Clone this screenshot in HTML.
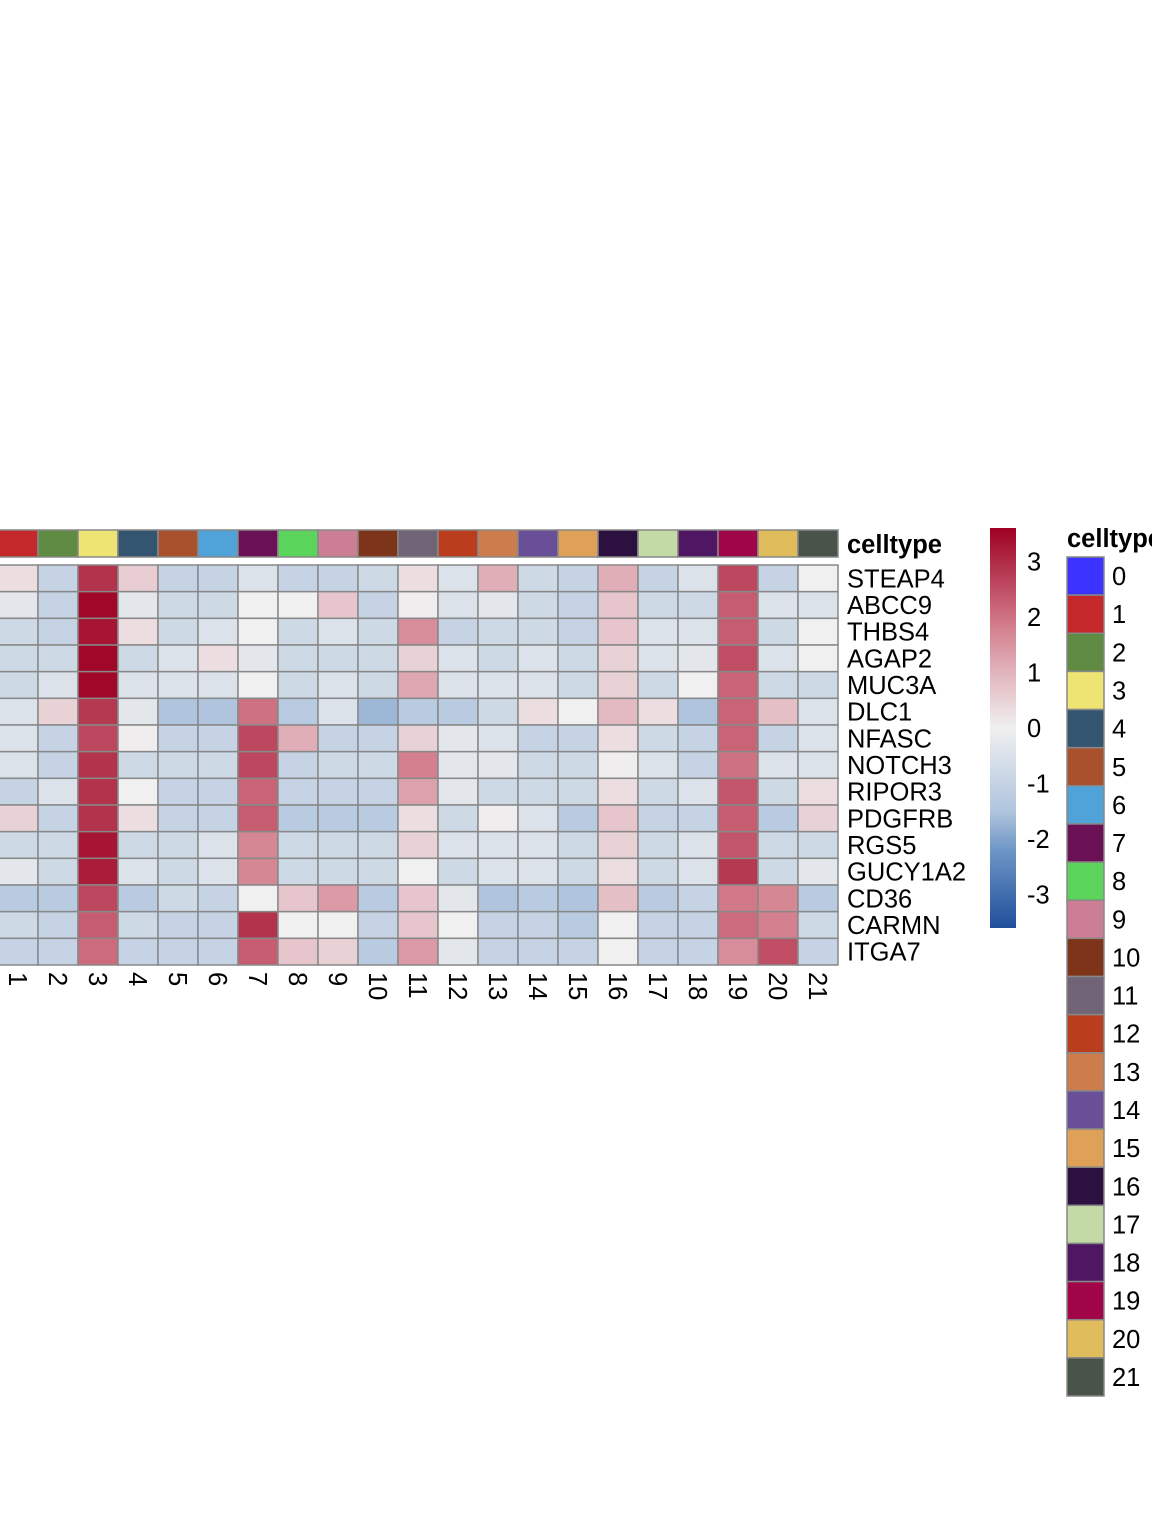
<!DOCTYPE html>
<html><head><meta charset="utf-8"><style>
html,body{margin:0;padding:0;background:#fff;}
svg{display:block;font-family:"Liberation Sans",Arial,sans-serif;}
</style></head><body>
<svg id="chart" width="1152" height="1536" viewBox="0 0 1152 1536" xmlns="http://www.w3.org/2000/svg"></svg>
<script>
const genes = ["STEAP4","ABCC9","THBS4","AGAP2","MUC3A","DLC1","NFASC","NOTCH3","RIPOR3","PDGFRB","RGS5","GUCY1A2","CD36","CARMN","ITGA7"];
const clusters = ["0","1","2","3","4","5","6","7","8","9","10","11","12","13","14","15","16","17","18","19","20","21"];
const clusterColors = ["#3C33FF","#C4282A","#5F8B43","#EEE474","#33556F","#A9502C","#4FA3D8","#6A1155","#5AD45A","#CB7E94","#7D3419","#706476","#BA3D1E","#CD7D4C","#684F98","#DEA157","#2C1040","#C3DAA7","#4F1664","#A00548","#E1BC5C","#48534A"];
const colorTicks = [3,2,1,0,-1,-2,-3];
const values = [
[-1,0.3,-1,2.9,0.6,-1,-1,-0.5,-1,-1,-0.8,0.3,-0.5,1.1,-0.8,-1,1.1,-1,-0.5,2.6,-1,0],
[-1,-0.3,-1,3.5,-0.3,-0.8,-0.8,0,0,0.7,-1,0.05,-0.5,-0.3,-0.8,-1,0.7,-0.8,-0.8,2.3,-0.5,-0.5],
[-1,-0.8,-1,3.3,0.3,-0.8,-0.5,0,-0.8,-0.5,-0.8,1.6,-1,-0.8,-0.8,-1,0.7,-0.5,-0.5,2.3,-0.8,0],
[-1,-0.8,-0.8,3.5,-0.8,-0.5,0.3,-0.3,-0.8,-0.8,-0.8,0.5,-0.5,-0.8,-0.5,-0.8,0.5,-0.5,-0.3,2.5,-0.5,0],
[-1,-0.8,-0.5,3.5,-0.5,-0.5,-0.5,0,-0.8,-0.5,-0.8,1.2,-0.5,-0.5,-0.5,-0.8,0.5,-0.8,0,2.2,-0.8,-0.8],
[-1,-0.5,0.5,2.8,-0.3,-1.5,-1.5,2.0,-1.3,-0.5,-1.7,-1.3,-1.3,-0.8,0.3,0,0.9,0.3,-1.5,2.2,0.8,-0.5],
[-1,-0.5,-1,2.6,0.05,-1,-1,2.6,1.1,-1,-1,0.5,-0.3,-0.5,-1,-1,0.3,-0.8,-1,2.2,-1,-0.5],
[-1,-0.5,-1,2.9,-0.8,-0.8,-0.8,2.6,-1,-0.8,-0.8,1.8,-0.3,-0.3,-0.8,-0.8,0.05,-0.5,-1,2.0,-0.5,-0.5],
[-1,-1,-0.5,2.9,0,-1,-1,2.2,-1,-1,-1,1.3,-0.3,-0.8,-0.8,-0.8,0.3,-0.8,-0.5,2.4,-0.8,0.3],
[-1,0.5,-1,2.9,0.3,-1,-1,2.3,-1.3,-1.3,-1.3,0.3,-0.8,0.05,-0.5,-1.3,0.7,-1,-1,2.3,-1.3,0.5],
[-1,-0.8,-0.8,3.3,-0.8,-0.8,-0.5,1.7,-0.8,-0.8,-0.8,0.5,-0.5,-0.5,-0.5,-0.8,0.5,-0.8,-0.5,2.4,-0.8,-0.8],
[-1,-0.3,-0.8,3.2,-0.5,-0.8,-0.5,1.7,-0.8,-0.8,-0.8,0,-0.8,-0.5,-0.5,-0.8,0.3,-0.8,-0.5,2.8,-0.8,-0.3],
[-1,-1.3,-1.3,2.6,-1.3,-0.8,-1,0,0.7,1.4,-1.3,0.7,-0.3,-1.5,-1.3,-1.5,0.8,-1.3,-1,1.9,1.7,-1.3],
[-1,-0.8,-1,2.3,-0.8,-1,-1,2.9,0,0,-1,0.7,0,-1,-1,-1.3,0,-1,-1,2.1,1.8,-0.8],
[-1,-1,-1,2.1,-1,-1,-1,2.3,0.7,0.5,-1.3,1.4,-0.3,-1,-1,-1,0,-1,-1,1.6,2.5,-1]
];
const NS="http://www.w3.org/2000/svg";
const svg=document.getElementById('chart');
const vmin=-3.6,vmax=3.6;
const stops=[[-3.6,[31,79,155]],[-2.2,[110,150,198]],[-1.5,[176,197,221]],[-1,[197,211,228]],[0,[240,240,240]],[1,[225,180,188]],[1.8,[212,128,142]],[3.6,[158,0,34]]];
function colorOf(v){v=Math.max(vmin,Math.min(vmax,v));for(let i=0;i<stops.length-1;i++){const a=stops[i],b=stops[i+1];if(v<=b[0]){const t=(v-a[0])/(b[0]-a[0]);const c=a[1].map((x,k)=>Math.round(x+(b[1][k]-x)*t));return `rgb(${c[0]},${c[1]},${c[2]})`;}}return 'rgb(158,0,34)';}
const x0=-42,cw=40,y0=565,rh=400/15;
const FS=25.5;
function xCol(i){return x0+i*cw;}
function yRow(j){return y0+j*rh;}
function el(tag,attrs,parent){const e=document.createElementNS(NS,tag);for(const k in attrs)e.setAttribute(k,attrs[k]);(parent||svg).appendChild(e);return e;}
clusters.forEach((c,i)=>{
  const r=el('rect',{x:xCol(i),y:530,width:cw,height:27,fill:clusterColors[i],stroke:'#888','stroke-width':1.5});
  
  
});
const at=el('text',{x:847,y:553,'font-size':FS,'font-weight':'bold',fill:'#000'});at.textContent='celltype';


values.forEach((row,j)=>{row.forEach((v,i)=>{
  const r=el('rect',{x:xCol(i),y:yRow(j),width:cw,height:rh,fill:colorOf(v),stroke:'#888','stroke-width':1.5});
  
  
});});
genes.forEach((g,j)=>{
  const t=el('text',{x:847,y:yRow(j)+rh/2+9,'font-size':FS,fill:'#000'});t.textContent=g;
  
  
});
clusters.forEach((c,i)=>{
  const cx=xCol(i)+cw/2;
  const t=el('text',{x:0,y:0,'font-size':FS,fill:'#000',transform:`translate(${cx-9},972) rotate(90)`});t.textContent=c;
  
  
});
const defs=el('defs',{});
const lg=el('linearGradient',{id:'cg',x1:0,y1:1,x2:0,y2:0},defs);
stops.forEach(s=>{el('stop',{offset:(s[0]-vmin)/(vmax-vmin),'stop-color':colorOf(s[0])},lg);});
const cbTop=528,cbBot=928;
const cb=el('rect',{x:990,y:cbTop,width:26,height:cbBot-cbTop,fill:'url(#cg)'});


function yScale(v){return cbBot-(v-vmin)/(vmax-vmin)*(cbBot-cbTop);}
colorTicks.forEach(v=>{
  const t=el('text',{x:1027,y:yScale(v)+9,'font-size':FS,fill:'#000'});t.textContent=String(v);
  
  
});
const lt=el('text',{x:1067,y:547,'font-size':FS,'font-weight':'bold',fill:'#000'});lt.textContent='celltype';


const lh=(1396-557)/22;
clusters.forEach((c,i)=>{
  const r=el('rect',{x:1067,y:557+i*lh,width:37,height:lh,fill:clusterColors[i],stroke:'#888','stroke-width':1.5});
  
  
  const t=el('text',{x:1112,y:557+i*lh+lh/2+9,'font-size':FS,fill:'#000'});t.textContent=c;
  
  
});
</script>
</body></html>
